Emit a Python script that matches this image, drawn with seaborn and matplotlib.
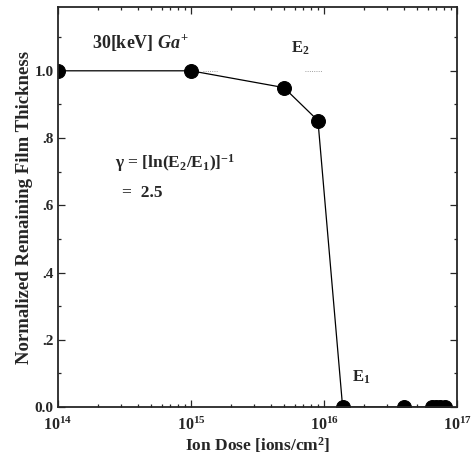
import numpy as np
import pandas as pd
import matplotlib
matplotlib.use("Agg")
import matplotlib.pyplot as plt
import seaborn as sns
from matplotlib.ticker import FixedLocator, MultipleLocator, FixedFormatter

# data
dose = [1e14, 1e15, 5e15, 9e15, 1.38e16, 4e16, 6.5e16, 7e16, 7.4e16, 8.1e16]
thickness = [1.0, 1.0, 0.95, 0.852, 0.0, 0.0, 0.0, 0.0, 0.0, 0.0]
yticks = [0.0, 0.2, 0.4, 0.6, 0.8, 1.0]
ytick_labels = ["0.0", ".2", ".4", ".6", ".8", "1.0"]

df = pd.DataFrame({"dose": dose, "thickness": thickness})

sns.set_style("ticks")
plt.rcParams["font.family"] = ["Liberation Serif", "DejaVu Serif"]
plt.rcParams["mathtext.fontset"] = "custom"
plt.rcParams["mathtext.rm"] = "Liberation Serif:bold"
plt.rcParams["mathtext.it"] = "Liberation Serif:bold:italic"
plt.rcParams["mathtext.bf"] = "Liberation Serif:bold"

fig = plt.figure(figsize=(4.74, 4.61), dpi=100)
ax = fig.add_axes([0.1224, 0.117, 0.8418, 0.868])

sns.lineplot(data=df, x="dose", y="thickness", ax=ax, color="black",
             lw=0.9, marker="o", markersize=10, markeredgecolor="black",
             markerfacecolor="black", estimator=None, sort=False)

ax.set_xscale("log")
ax.set_xlim(1e14, 1e17)
ax.set_ylim(0, 1.19)
ax.yaxis.set_major_locator(FixedLocator(yticks))
ax.yaxis.set_major_formatter(FixedFormatter(ytick_labels))
ax.yaxis.set_minor_locator(MultipleLocator(0.1))

ax.tick_params(which="both", direction="in", top=True, right=True,
               labelsize=11, width=0.9)
ax.tick_params(which="major", length=5)
ax.tick_params(which="minor", length=2.5)
ax.tick_params(axis="x", which="major", pad=7, labelsize=11.5)
ax.tick_params(axis="y", which="major", pad=3)
for lab in ax.get_xticklabels() + ax.get_yticklabels():
    lab.set_fontweight("bold")
for sp in ax.spines.values():
    sp.set_linewidth(1.3)

ax.set_xlabel("Ion Dose [ions/cm$^2$]", fontsize=12.5, fontweight="bold",
              labelpad=1)
ax.set_ylabel("Normalized Remaining Film Thickness", fontsize=13.5,
              fontweight="bold", labelpad=1)

ax.text(0.085, 0.91, "30[keV] $\\it{Ga}^{+}$", transform=ax.transAxes,
        fontsize=13, fontweight="bold", va="center")
ax.text(0.585, 0.8975, "E$_2$", transform=ax.transAxes, fontsize=12,
        fontweight="bold", va="center")
ax.text(0.738, 0.075, "E$_1$", transform=ax.transAxes, fontsize=12,
        fontweight="bold", va="center")
ax.text(0.143, 0.61, "γ = [ln(E$_2$/E$_1$)]$^{-1}$", transform=ax.transAxes,
        fontsize=12.5, fontweight="bold", va="center")
ax.text(0.16, 0.535, "=  2.5", transform=ax.transAxes, fontsize=12.5,
        fontweight="bold", va="center")

# faint dotted marks near the top plateau
ax.plot([1.23e15, 1.57e15], [1.0, 1.0], color="gray", lw=0.6, ls=":")
ax.plot([7.2e15, 9.7e15], [1.0, 1.0], color="gray", lw=0.6, ls=":")

fig.savefig("out.png", dpi=100)
